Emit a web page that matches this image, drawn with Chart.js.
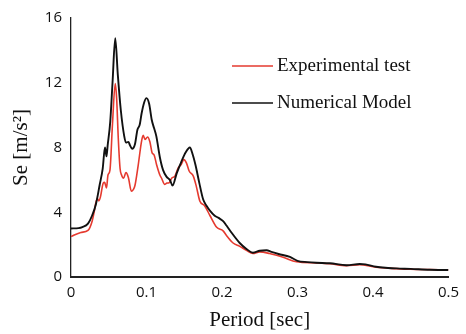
<!DOCTYPE html>
<html>
<head>
<meta charset="utf-8">
<script src="https://cdn.jsdelivr.net/npm/chart.js@4.4.1/dist/chart.umd.min.js"></script>
<style>
  html, body { margin: 0; padding: 0; background: #fff; }
  #wrap { width: 466px; height: 334px; }
</style>
</head>
<body>
<div id="wrap"><canvas id="c" width="466" height="334"></canvas></div>
<script>
// Response spectra: period [sec] vs spectral acceleration Se [m/s²]
const seriesLabels = ['Experimental test', 'Numerical Model'];
const xTicks = [0, 0.1, 0.2, 0.3, 0.4, 0.5];
const yTicks = [0, 4, 8, 12, 16];

const experimentalPeriod = [0, 0.013, 0.0225, 0.028, 0.031, 0.033, 0.035, 0.037, 0.039, 0.0427, 0.0445, 0.047, 0.049, 0.0516, 0.055, 0.0586, 0.0605, 0.0626, 0.065, 0.067, 0.0695, 0.0728, 0.076, 0.080, 0.0825, 0.0847, 0.089, 0.0935, 0.0957, 0.098, 0.1014, 0.1045, 0.1076, 0.110, 0.1133, 0.1177, 0.120, 0.124, 0.127, 0.130, 0.1335, 0.1376, 0.142, 0.146, 0.1495, 0.153, 0.1565, 0.162, 0.166, 0.1706, 0.177, 0.184, 0.193, 0.2015, 0.206, 0.2147, 0.2235, 0.2324, 0.241, 0.250, 0.263, 0.281, 0.2985, 0.325, 0.343, 0.365, 0.3825, 0.404, 0.431, 0.450, 0.475, 0.500];
const experimentalSe = [2.5, 2.75, 2.88, 3.45, 4.1, 4.6, 4.85, 4.7, 4.95, 5.8, 5.85, 5.5, 6.3, 6.6, 9.5, 11.95, 11.0, 8.6, 6.7, 6.3, 6.1, 6.45, 6.15, 5.3, 5.4, 5.65, 6.9, 8.4, 8.75, 8.5, 8.65, 8.35, 7.65, 7.55, 6.95, 6.3, 6.1, 5.72, 5.8, 5.82, 6.12, 6.23, 6.74, 6.95, 7.25, 7.04, 6.55, 6.23, 5.6, 4.7, 4.4, 3.8, 3.07, 2.85, 2.56, 2.1, 1.89, 1.65, 1.45, 1.55, 1.45, 1.22, 0.94, 0.87, 0.82, 0.7, 0.76, 0.6, 0.52, 0.48, 0.46, 0.44];

const numericalPeriod = [0, 0.010, 0.015, 0.0225, 0.028, 0.033, 0.038, 0.042, 0.045, 0.047, 0.0485, 0.052, 0.055, 0.0586, 0.062, 0.066, 0.0705, 0.0728, 0.076, 0.078, 0.081, 0.0847, 0.088, 0.091, 0.0935, 0.097, 0.100, 0.1035, 0.107, 0.110, 0.113, 0.1177, 0.122, 0.1265, 0.131, 0.1345, 0.140, 0.146, 0.152, 0.1574, 0.161, 0.165, 0.170, 0.175, 0.1795, 0.184, 0.190, 0.1955, 0.2015, 0.206, 0.2125, 0.2235, 0.232, 0.241, 0.250, 0.259, 0.2655, 0.275, 0.290, 0.300, 0.313, 0.325, 0.343, 0.365, 0.3825, 0.390, 0.404, 0.420, 0.431, 0.450, 0.475, 0.500];
const numericalSe = [3.0, 3.02, 3.08, 3.3, 3.8, 4.5, 5.7, 6.7, 8.0, 7.45, 8.1, 9.6, 12.0, 14.75, 12.5, 10.3, 8.7, 8.3, 8.35, 8.15, 7.92, 8.2, 9.1, 9.4, 10.1, 10.8, 11.05, 10.7, 9.7, 9.2, 8.7, 7.4, 6.6, 6.2, 6.0, 5.65, 6.4, 7.1, 7.7, 8.0, 7.6, 6.9, 5.8, 4.8, 4.4, 4.1, 3.8, 3.65, 3.45, 3.18, 2.75, 2.1, 1.75, 1.5, 1.62, 1.65, 1.55, 1.42, 1.24, 1.0, 0.92, 0.88, 0.85, 0.73, 0.8, 0.78, 0.63, 0.56, 0.53, 0.5, 0.45, 0.43];

const toPoints = (xs, ys) => xs.map((x, i) => ({ x: x, y: ys[i] }));

// Legend drawn inside the plot area, to the right of the peaks
const insetLegend = {
  id: 'insetLegend',
  afterDraw(chart) {
    const ctx = chart.ctx;
    const area = chart.chartArea;
    const x0 = area.left + 161;
    const rows = [area.top + 48, area.top + 85];
    ctx.save();
    ctx.font = '19px "Liberation Serif", "Times New Roman", serif';
    ctx.textBaseline = 'middle';
    ctx.textAlign = 'left';
    chart.data.datasets.forEach((ds, i) => {
      const y = rows[i];
      ctx.strokeStyle = ds.borderColor;
      ctx.lineWidth = 1.5;
      ctx.beginPath();
      ctx.moveTo(x0, y);
      ctx.lineTo(x0 + 41, y);
      ctx.stroke();
      ctx.fillStyle = '#111';
      ctx.fillText(ds.label, x0 + 45, y);
    });
    ctx.restore();
  }
};

new Chart(document.getElementById('c'), {
  type: 'line',
  data: {
    datasets: [
      {
        label: seriesLabels[0],
        data: toPoints(experimentalPeriod, experimentalSe),
        borderColor: '#e53a2f',
        borderWidth: 1.6,
        pointRadius: 0,
        cubicInterpolationMode: 'monotone',
        order: 2
      },
      {
        label: seriesLabels[1],
        data: toPoints(numericalPeriod, numericalSe),
        borderColor: '#111111',
        borderWidth: 1.9,
        pointRadius: 0,
        cubicInterpolationMode: 'monotone',
        order: 1
      }
    ]
  },
  options: {
    responsive: false,
    animation: false,
    layout: { padding: { top: 15, right: 17, left: 0, bottom: 0 } },
    plugins: {
      legend: { display: false },
      tooltip: { enabled: false }
    },
    scales: {
      x: {
        type: 'linear',
        min: xTicks[0],
        max: xTicks[xTicks.length - 1],
        afterBuildTicks: s => { s.ticks = xTicks.map(v => ({ value: v })); },
        afterFit: s => { s.height = 57; },
        grid: { color: 'transparent', drawTicks: false },
        border: { color: '#222', width: 2 },
        ticks: {
          padding: 7,
          color: '#111',
          font: { family: '"Open Sans", sans-serif', size: 15 },
          callback: v => String(+v.toFixed(1))
        },
        title: {
          display: true,
          text: 'Period [sec]',
          color: '#111',
          font: { family: '"Liberation Serif", "Times New Roman", serif', size: 21 },
          padding: { top: 0, bottom: 1 }
        }
      },
      y: {
        min: yTicks[0],
        max: yTicks[yTicks.length - 1],
        afterBuildTicks: s => { s.ticks = yTicks.map(v => ({ value: v })); },
        afterFit: s => { s.width = 71; },
        grid: { color: 'transparent', drawTicks: false },
        border: { color: '#222', width: 1.3 },
        ticks: {
          padding: 9,
          color: '#111',
          font: { family: '"Open Sans", sans-serif', size: 15 }
        },
        title: {
          display: true,
          text: 'Se [m/s²]',
          color: '#111',
          font: { family: '"Liberation Serif", "Times New Roman", serif', size: 21 },
          padding: { top: 9, bottom: 0 }
        }
      }
    }
  },
  plugins: [insetLegend]
});
</script>
</body>
</html>
